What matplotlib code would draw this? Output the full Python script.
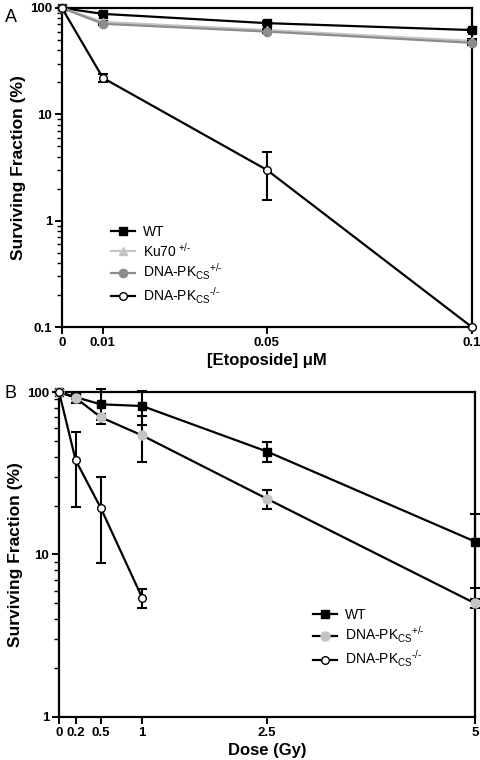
import numpy as np
import matplotlib
matplotlib.use('Agg')
import matplotlib.pyplot as plt
from matplotlib.lines import Line2D
from matplotlib.ticker import FixedLocator, LogLocator, NullFormatter

plt.rcParams['font.family'] = ['Liberation Sans', 'DejaVu Sans']
plt.rcParams['mathtext.fontset'] = 'custom'
plt.rcParams['mathtext.rm'] = 'Liberation Sans'
plt.rcParams['mathtext.it'] = 'Liberation Sans'

# panel A: etoposide
eto_dose = [0, 0.01, 0.05, 0.1]
eto_wt = [100, 88, 72, 62]
eto_wt_err = [0, 3, 3, 2]
eto_ku70 = [100, 74, 62, 49]
eto_ku70_err = [0, 2, 2, 2]
eto_het = [100, 71, 60, 47]
eto_het_err = [0, 2, 2, 2]
eto_ko = [100, 22, 3.0, 0.1]
eto_ko_err = [0, 2, 1.45, 0]
eto_ticks = [0, 0.01, 0.05, 0.1]
eto_ticklabels = ['0', '0.01', '0.05', '0.1']

# panel B: ionizing radiation
ir_dose_wt = [0, 0.2, 0.5, 1, 2.5, 5]
ir_wt = [100, 93, 84, 82, 43, 12]
ir_wt_err = [0, 3, 20, 19, 6, 5.8]
ir_dose_het = [0, 0.2, 0.5, 1, 2.5, 5]
ir_het = [100, 92, 70, 54, 22, 5.0]
ir_het_err = [0, 6, 3, 17, 3, 0.3]
ir_dose_ko = [0, 0.2, 0.5, 1]
ir_ko = [100, 38, 19.4, 5.4]
ir_ko_err = [0, 18.5, 10.5, 0.7]
ir_ticks = [0, 0.2, 0.5, 1, 2.5, 5]
ir_ticklabels = ['0', '0.2', '0.5', '1', '2.5', '5']

lab_wt = 'WT'
lab_ku = 'Ku70$^{\\text{ +/-}}$'
lab_het = 'DNA-PK$_{\\text{CS}}$$^{\\text{+/-}}$'
lab_ko = 'DNA-PK$_{\\text{CS}}$$^{\\text{-/-}}$'

fig = plt.figure(figsize=(4.8, 7.6), dpi=100)
axA = fig.add_axes([0.129, 0.5697, 0.854, 0.4198])
axB = fig.add_axes([0.123, 0.0566, 0.867, 0.4276])

lw = 1.6
cap = 3.5


def series(ax, x, y, e, color, lcolor, marker, mfc, ms, z):
    ax.errorbar(x, y, yerr=e, color=lcolor, ecolor='black', elinewidth=1.5,
                capsize=cap, capthick=1.5, lw=lw, marker=marker, mfc=mfc,
                mec=color, ms=ms, clip_on=False, zorder=z)
    return Line2D([], [], color=lcolor, lw=lw, marker=marker, mfc=mfc,
                  mec=color, ms=ms)


def style(ax, ticks, labels, xmax, ymin, ylabels):
    ax.set_yscale('log')
    ax.set_xlim(0, xmax)
    ax.set_ylim(ymin, 100)
    ax.xaxis.set_major_locator(FixedLocator(ticks))
    ax.set_xticklabels(labels)
    ax.yaxis.set_major_locator(FixedLocator([float(v) for v in ylabels]))
    ax.yaxis.set_minor_locator(LogLocator(base=10, subs=np.arange(2, 10)))
    ax.yaxis.set_minor_formatter(NullFormatter())
    ax.set_yticklabels(ylabels)
    for s in ax.spines.values():
        s.set_linewidth(1.6)
    ax.tick_params(axis='both', which='major', width=1.4, length=5,
                   labelsize=9.5, pad=2)
    ax.tick_params(axis='y', which='minor', width=1.0, length=3.5)
    for t in ax.get_xticklabels() + ax.get_yticklabels():
        t.set_fontweight('bold')


hA = [
    series(axA, eto_dose, eto_wt, eto_wt_err, 'black', 'black', 's', 'black', 6, 3),
    series(axA, eto_dose, eto_ku70, eto_ku70_err, '#c4c4c4', '#c4c4c4', '^', '#c4c4c4', 6, 4),
    series(axA, eto_dose, eto_het, eto_het_err, '#8c8c8c', '#8c8c8c', 'o', '#8c8c8c', 6, 5),
    series(axA, eto_dose, eto_ko, eto_ko_err, 'black', 'black', 'o', 'white', 5.5, 6),
]
style(axA, eto_ticks, eto_ticklabels, 0.1, 0.1, ['0.1', '1', '10', '100'])
axA.set_xlabel('[Etoposide] μM', fontsize=12, fontweight='bold', labelpad=3)
axA.set_ylabel('Surviving Fraction (%)', fontsize=12.5, fontweight='bold', labelpad=3)
axA.legend(hA, [lab_wt, lab_ku, lab_het, lab_ko], loc='upper left',
           bbox_to_anchor=(0.09, 0.36), frameon=False, fontsize=10,
           handlelength=1.7, labelspacing=0.2, handletextpad=0.6)

hB = [
    series(axB, ir_dose_wt, ir_wt, ir_wt_err, 'black', 'black', 's', 'black', 6, 3),
    series(axB, ir_dose_het, ir_het, ir_het_err, '#c4c4c4', 'black', 'o', '#c4c4c4', 6.5, 4),
    series(axB, ir_dose_ko, ir_ko, ir_ko_err, 'black', 'black', 'o', 'white', 5.5, 5),
]
style(axB, ir_ticks, ir_ticklabels, 5, 1, ['1', '10', '100'])
axB.set_xlabel('Dose (Gy)', fontsize=12, fontweight='bold', labelpad=3)
axB.set_ylabel('Surviving Fraction (%)', fontsize=12.5, fontweight='bold', labelpad=3)
axB.legend(hB, [lab_wt, lab_het, lab_ko], loc='upper left',
           bbox_to_anchor=(0.58, 0.375), frameon=False, fontsize=10,
           handlelength=1.7, labelspacing=0.25, handletextpad=0.6)

fig.text(0.01, 0.988, 'A', fontsize=13, va='top')
fig.text(0.01, 0.493, 'B', fontsize=13, va='top')

fig.savefig('out.png', dpi=100)
